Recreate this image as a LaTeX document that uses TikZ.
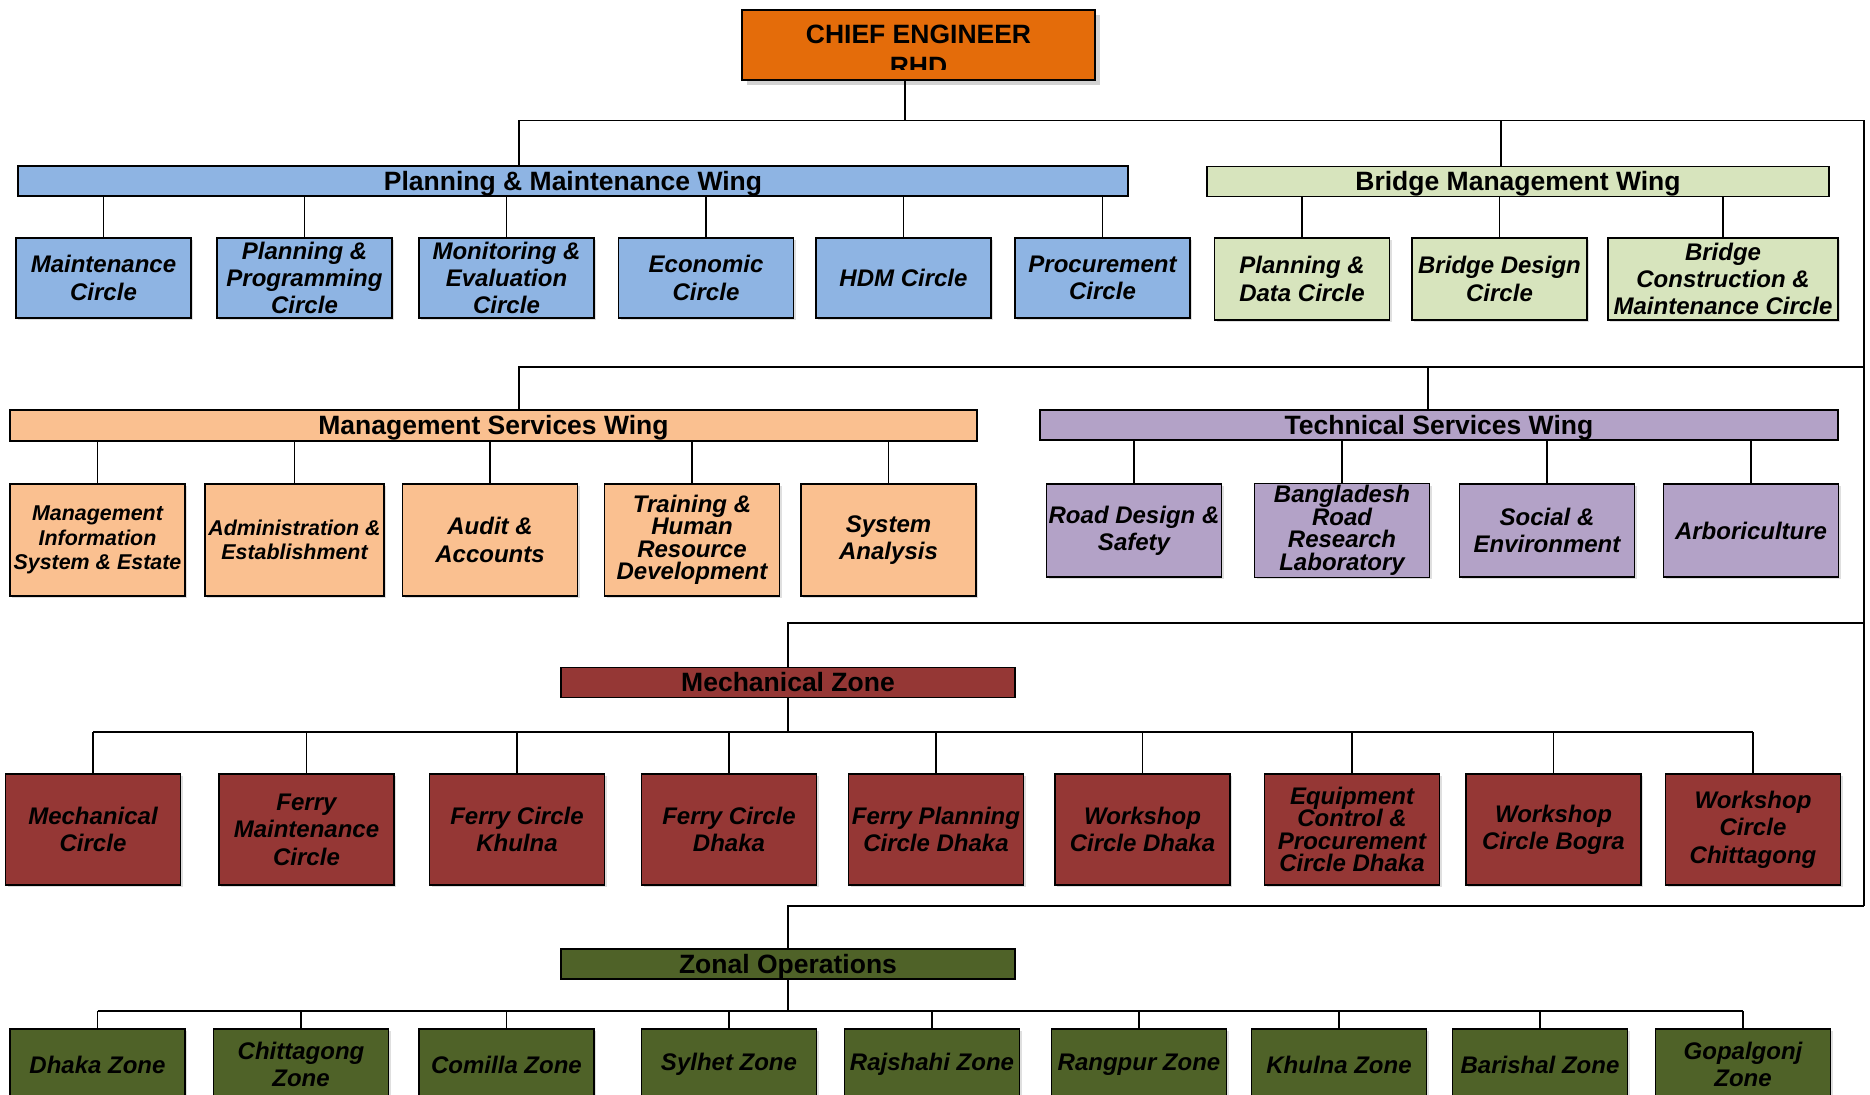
\documentclass[tikz,border=0pt]{standalone}
\usepackage{fontspec}
\setmainfont{Liberation Sans}
\usetikzlibrary{shadows}

\definecolor{ceorange}{HTML}{E46C0A}
\definecolor{pmblue}{HTML}{8EB4E3}
\definecolor{bmgreen}{HTML}{D7E4BD}
\definecolor{mspeach}{HTML}{FAC090}
\definecolor{tspurple}{HTML}{B3A2C7}
\definecolor{mzred}{HTML}{953735}
\definecolor{zogreen}{HTML}{4F6228}

\newcommand{\headfont}{\fontsize{13.25}{16}\selectfont\bfseries}
\newcommand{\boxfont}{\fontsize{12}{13.7}\selectfont\bfseries\itshape}
\newcommand{\tightfont}{\fontsize{12}{11.25}\selectfont\bfseries\itshape}
\newcommand{\smallboxfont}{\fontsize{10.7}{12.2}\selectfont\bfseries\itshape}

\begin{document}
\begin{tikzpicture}[x=0.5pt,y=-0.5pt,
  wingbar/.style={draw=black, line width=0.8pt, inner sep=0pt, minimum height=15pt,
    text height=10.5pt, text depth=1pt, font=\headfont},
  unitbox/.style={draw=black, line width=0.9pt, inner sep=1pt, align=center, font=\boxfont,
    minimum width=87.5pt, drop shadow={shadow xshift=1pt, shadow yshift=-1pt, fill=black!25}},
  pmunit/.style={unitbox, fill=pmblue, minimum height=40pt},
  bmunit/.style={unitbox, fill=bmgreen, minimum height=41pt},
  msunit/.style={unitbox, fill=mspeach, minimum height=56pt},
  tsunit/.style={unitbox, fill=tspurple, minimum height=46.5pt},
  mzunit/.style={unitbox, fill=mzred, minimum height=55.5pt},
  zounit/.style={unitbox, fill=zogreen, minimum height=35.5pt},
  link/.style={line width=0.75pt}]
  \clip (0,0) rectangle (1870,1095);

  % chief engineer, text cut off by the box
  \node[draw=black, line width=1pt, fill=ceorange, minimum width=176.5pt, minimum height=35pt,
    drop shadow={shadow xshift=2.5pt, shadow yshift=-2.5pt, fill=black!35}] (ce) at (918.5,45) {};
  \begin{scope}
    \clip (ce.north west) rectangle ([yshift=5.5pt]ce.south east);
    \node[font=\headfont, align=center, inner sep=0pt, anchor=north] (cet) at (918.5,25) {CHIEF ENGINEER\\RHD};
  \end{scope}

  % wings and zones
  \node[wingbar, fill=pmblue, minimum width=555pt] (pmw) at (573,181) {Planning \& Maintenance Wing};
  \node[wingbar, fill=bmgreen, minimum width=311pt] (bmw) at (1518,181.5) {Bridge Management Wing};
  \node[wingbar, fill=mspeach, minimum width=483.5pt, minimum height=15.5pt] (msw) at (493.5,425.5) {Management Services Wing};
  \node[wingbar, fill=tspurple, minimum width=399pt] (tsw) at (1439,425) {Technical Services Wing};
  \node[wingbar, fill=mzred, minimum width=227pt] (mz) at (788,682.5) {Mechanical Zone};
  \node[wingbar, fill=zogreen, minimum width=227pt] (zo) at (788,964) {Zonal Operations};

  % planning & maintenance wing
  \node[pmunit] (mntc) at (103.5,278) {Maintenance\\Circle};
  \node[pmunit] (ppc) at (304.5,278) {Planning \&\\Programming\\Circle};
  \node[pmunit] (mec) at (506.5,278) {Monitoring \&\\Evaluation\\Circle};
  \node[pmunit] (ecc) at (706,278) {Economic\\Circle};
  \node[pmunit] (hdmc) at (903.5,278) {HDM Circle};
  \node[pmunit] (prc) at (1102.5,278) {Procurement\\Circle};

  % bridge management wing
  \node[bmunit] (pdc) at (1302,279) {Planning \&\\Data Circle};
  \node[bmunit] (bdc) at (1499.5,279) {Bridge Design\\Circle};
  \node[bmunit, minimum width=115pt] (bcmc) at (1723,279) {Bridge\\Construction \&\\Maintenance Circle};

  % management services wing
  \node[msunit, font=\smallboxfont] (mise) at (97.5,540) {Management\\Information\\System \& Estate};
  \node[msunit, font=\smallboxfont, minimum width=89.5pt] (ade) at (294.5,540) {Administration \&\\Establishment};
  \node[msunit] (aua) at (490,540) {Audit \&\\Accounts};
  \node[msunit, font=\tightfont] (thrd) at (692,540) {Training \&\\Human\\Resource\\Development};
  \node[msunit] (sya) at (888.5,540) {System\\Analysis};

  % technical services wing
  \node[tsunit] (rds) at (1134,530.5) {Road Design \&\\Safety};
  \node[tsunit, font=\tightfont] (brrl) at (1342,530.5) {Bangladesh\\Road\\Research\\Laboratory};
  \node[tsunit] (soe) at (1547,530.5) {Social \&\\Environment};
  \node[tsunit] (arb) at (1751,530.5) {Arboriculture};

  % mechanical zone
  \node[mzunit] (mecc) at (93,829.5) {Mechanical\\Circle};
  \node[mzunit] (fmc) at (306.5,829.5) {Ferry\\Maintenance\\Circle};
  \node[mzunit] (fck) at (517,829.5) {Ferry Circle\\Khulna};
  \node[mzunit] (fcd) at (729,829.5) {Ferry Circle\\Dhaka};
  \node[mzunit] (fpc) at (936,829.5) {Ferry Planning\\Circle Dhaka};
  \node[mzunit] (wcd) at (1142.5,829.5) {Workshop\\Circle Dhaka};
  \node[mzunit, font=\tightfont] (ecp) at (1352,829.5) {Equipment\\Control \&\\Procurement\\Circle Dhaka};
  \node[mzunit] (wcb) at (1553.5,829.5) {Workshop\\Circle Bogra};
  \node[mzunit] (wcc) at (1753,829.5) {Workshop\\Circle\\Chittagong};

  % zonal operations
  \node[zounit] (dhz) at (97.5,1064.5) {Dhaka Zone};
  \node[zounit] (ctz) at (301,1064.5) {Chittagong\\Zone};
  \node[zounit] (cmz) at (506.5,1064.5) {Comilla Zone};
  \node[zounit] (syz) at (729,1064.5) {Sylhet Zone};
  \node[zounit] (rjz) at (932,1064.5) {Rajshahi Zone};
  \node[zounit] (rgz) at (1139,1064.5) {Rangpur Zone};
  \node[zounit] (knz) at (1339,1064.5) {Khulna Zone};
  \node[zounit] (bsz) at (1540,1064.5) {Barishal Zone};
  \node[zounit] (gpz) at (1743,1064.5) {Gopalgonj\\Zone};

  % trunk lines
  \coordinate (s1) at (519,120.5);
  \coordinate (s2) at (519,367);
  \coordinate (e1) at (1864,120.5);
  \coordinate (e2) at (1864,367);
  \coordinate (e3) at (1864,623);
  \coordinate (e4) at (1864,906);
  \coordinate (b3) at (0,732);
  \coordinate (b4) at (0,1011);

  \draw[link] ([xshift=-6.75pt]ce.south) -- ([xshift=-6.75pt]ce.south |- e1);
  \draw[link] (s1 |- pmw.north) -- (s1) -- (e1) -- (e4);
  \draw[link] ([xshift=-8.5pt]bmw.north) -- ([xshift=-8.5pt]bmw.north |- e1);
  \draw[link] (s2 |- msw.north) -- (s2) -- (e2);
  \draw[link] ([xshift=-5.5pt]tsw.north) -- ([xshift=-5.5pt]tsw.north |- e2);
  \draw[link] (mz.north) |- (e3);
  \draw[link] (zo.north) |- (e4);

  % branches
  \foreach \n in {mntc,ppc,mec,ecc,hdmc,prc}
    \draw[link] (\n.north) -- (\n.north |- pmw.south);
  \foreach \n in {pdc,bdc,bcmc}
    \draw[link] (\n.north) -- (\n.north |- bmw.south);
  \foreach \n in {mise,ade,aua,thrd,sya}
    \draw[link] (\n.north) -- (\n.north |- msw.south);
  \foreach \n in {rds,brrl,soe,arb}
    \draw[link] (\n.north) -- (\n.north |- tsw.south);

  \draw[link] (mz.south) -- (mz.south |- b3);
  \draw[link] (mecc.north |- b3) -- (wcc.north |- b3);
  \foreach \n in {mecc,fmc,fck,fcd,fpc,wcd,ecp,wcb,wcc}
    \draw[link] (\n.north) -- (\n.north |- b3);

  \draw[link] (zo.south) -- (zo.south |- b4);
  \draw[link] (dhz.north |- b4) -- (gpz.north |- b4);
  \foreach \n in {dhz,ctz,cmz,syz,rjz,rgz,knz,bsz,gpz}
    \draw[link] (\n.north) -- (\n.north |- b4);
\end{tikzpicture}
\end{document}
